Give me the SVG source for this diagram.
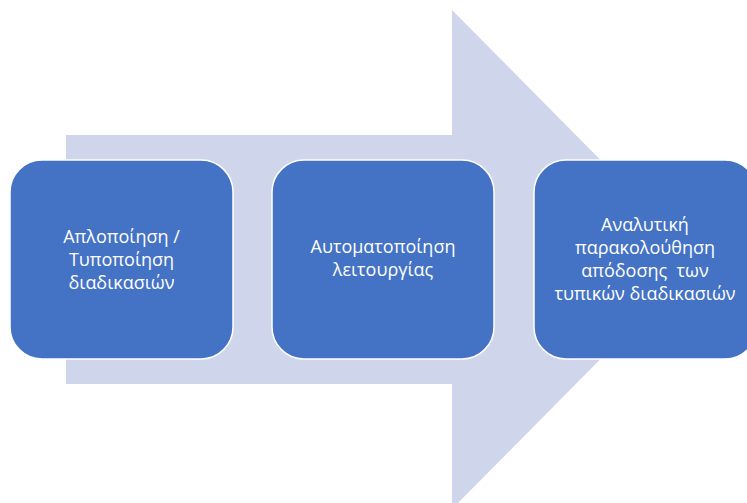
<svg xmlns="http://www.w3.org/2000/svg" width="747" height="503" viewBox="0 0 747 503">
<style>
.box{fill:#4472C4;stroke:#ffffff;stroke-width:1.5}
.t{font-family:"Open Sans","Liberation Sans",sans-serif;font-size:18px;fill:#ffffff;text-anchor:middle}
</style>
<rect width="747" height="503" fill="#ffffff"/>
<g id="arrow">
<polygon points="66,135 452,135 452,10 699,259.5 452,509 452,384 66,384" fill="#CFD5EA"/>
</g>
<g id="connectors"></g>
<g id="node1">
<rect class="box" x="10" y="160" width="223" height="199" rx="32"/>
<text class="t" x="121.5" y="243">Απλοποίηση /</text>
<text class="t" x="121.5" y="266">Τυποποίηση</text>
<text class="t" x="121.5" y="289">διαδικασιών</text>
</g>
<g id="node2">
<rect class="box" x="272" y="160" width="222" height="199" rx="32"/>
<text class="t" x="383" y="253">Αυτοματοποίηση</text>
<text class="t" x="383" y="276">λειτουργίας</text>
</g>
<g id="node3">
<rect class="box" x="534" y="160" width="223" height="199" rx="32"/>
<text class="t" x="645" y="231">Αναλυτική</text>
<text class="t" x="645" y="254">παρακολούθηση</text>
<text class="t" x="645" y="277" xml:space="preserve" style="white-space:pre">απόδοσης  των</text>
<text class="t" x="645" y="300">τυπικών διαδικασιών</text>
</g>
</svg>
